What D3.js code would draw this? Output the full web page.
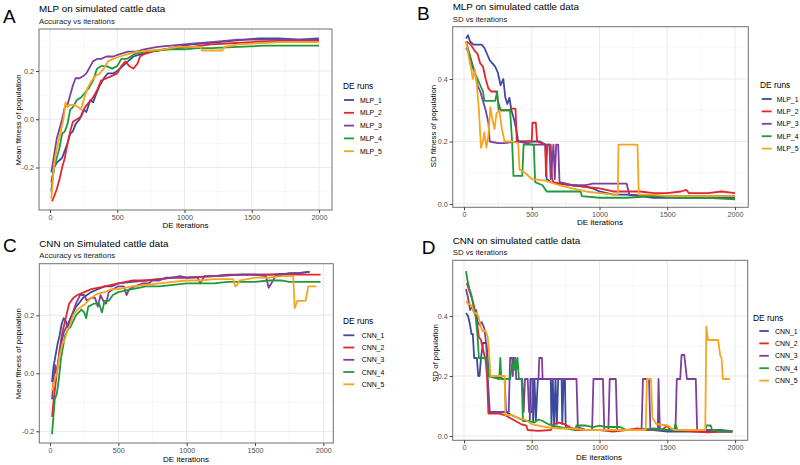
<!DOCTYPE html>
<html><head><meta charset="utf-8">
<script src="https://cdn.jsdelivr.net/npm/d3@7"></script>
<style>body{margin:0;background:#fff} svg{display:block;font-family:"Liberation Sans",Arial,sans-serif}</style>
</head><body><svg id="c" width="800" height="465"></svg>
<script>
// ---------------- DATA (iteration, value) ----------------
const xTicks = [0, 500, 1000, 1500, 2000];
const xMinor = [250, 750, 1250, 1750];
const mlpNames = ["MLP_1","MLP_2","MLP_3","MLP_4","MLP_5"];
const cnnNames = ["CNN_1","CNN_2","CNN_3","CNN_4","CNN_5"];
const accTicks = [-0.2, 0.0, 0.2];
const accMinorA = [-0.3, -0.1, 0.1, 0.3];
const accMinorC = [-0.1, 0.1, 0.3];
const sdTicks = [0.0, 0.2, 0.4];
const sdMinor = [0.1, 0.3, 0.5];

// Panel A: MLP mean fitness
const mlpAcc1 = [[10,-0.30],[20,-0.24],[30,-0.20],[50,-0.18],[70,-0.17],[90,-0.16],[110,-0.13],[130,-0.10],[150,-0.06],[170,-0.05],[190,-0.02],[220,0.0],[250,0.04],[270,0.03],[300,0.08],[320,0.07],[340,0.10],[370,0.14],[400,0.17],[430,0.19],[470,0.19],[500,0.20],[540,0.22],[580,0.24],[620,0.26],[680,0.27],[750,0.28],[850,0.29],[950,0.30],[1050,0.31],[1150,0.315],[1250,0.32],[1350,0.325],[1450,0.33],[1550,0.335],[1700,0.335],[1850,0.33],[2000,0.335]];
const mlpAcc2 = [[15,-0.34],[30,-0.32],[50,-0.29],[70,-0.25],[90,-0.20],[110,-0.16],[130,-0.10],[150,-0.05],[170,-0.01],[200,0.0],[230,0.01],[260,0.05],[290,0.07],[320,0.09],[350,0.12],[380,0.16],[420,0.17],[460,0.18],[500,0.19],[530,0.22],[560,0.24],[590,0.22],[620,0.21],[650,0.23],[670,0.26],[700,0.27],[760,0.28],[850,0.29],[950,0.295],[1050,0.30],[1200,0.31],[1350,0.315],[1500,0.32],[1700,0.325],[1850,0.325],[2000,0.325]];
const mlpAcc3 = [[10,-0.22],[30,-0.15],[50,-0.08],[70,-0.04],[90,0.0],[110,0.05],[130,0.06],[150,0.10],[170,0.14],[190,0.17],[220,0.17],[250,0.18],[270,0.19],[290,0.21],[320,0.24],[350,0.25],[380,0.25],[420,0.26],[470,0.26],[520,0.27],[580,0.28],[640,0.28],[700,0.29],[800,0.30],[900,0.305],[1000,0.31],[1100,0.315],[1200,0.32],[1300,0.325],[1400,0.33],[1500,0.33],[1700,0.33],[1850,0.33],[2000,0.33]];
const mlpAcc4 = [[10,-0.26],[30,-0.20],[50,-0.16],[70,-0.12],[90,-0.06],[110,-0.05],[130,-0.02],[150,0.04],[170,0.05],[200,0.08],[230,0.09],[260,0.11],[290,0.13],[320,0.16],[350,0.21],[380,0.22],[420,0.22],[460,0.21],[500,0.22],[530,0.25],[570,0.25],[600,0.26],[630,0.27],[700,0.28],[800,0.285],[900,0.29],[1000,0.29],[1100,0.295],[1200,0.295],[1400,0.30],[1600,0.305],[1800,0.305],[2000,0.305]];
const mlpAcc5 = [[10,-0.33],[25,-0.22],[40,-0.15],[60,-0.10],[80,-0.05],[100,0.0],[115,0.07],[130,0.05],[150,0.06],[180,0.06],[210,0.05],[230,0.04],[250,0.08],[280,0.13],[310,0.16],[340,0.18],[370,0.19],[400,0.21],[430,0.24],[470,0.25],[520,0.26],[580,0.27],[650,0.28],[750,0.285],[850,0.29],[950,0.30],[1050,0.30],[1120,0.30],[1130,0.285],[1280,0.285],[1300,0.30],[1400,0.31],[1550,0.315],[1700,0.32],[1850,0.32],[2000,0.32]];

// Panel B: MLP SD
const mlpSd1 = [[15,0.53],[30,0.54],[45,0.52],[70,0.51],[100,0.51],[130,0.51],[150,0.50],[170,0.48],[190,0.46],[210,0.45],[230,0.44],[250,0.42],[270,0.38],[290,0.40],[305,0.34],[320,0.32],[335,0.34],[350,0.30],[370,0.27],[385,0.24],[400,0.20],[450,0.20],[500,0.20],[560,0.20],[600,0.19],[610,0.08],[640,0.07],[700,0.065],[800,0.06],[900,0.055],[950,0.05],[1000,0.04],[1100,0.03],[1200,0.03],[1300,0.025],[1400,0.02],[1500,0.02],[1600,0.02],[1800,0.02],[2000,0.02]];
const mlpSd2 = [[20,0.52],[50,0.51],[80,0.49],[100,0.48],[120,0.45],[140,0.44],[160,0.40],[180,0.37],[200,0.36],[240,0.36],[250,0.33],[270,0.30],[300,0.30],[330,0.30],[350,0.305],[380,0.305],[390,0.20],[440,0.20],[500,0.20],[505,0.26],[530,0.26],[540,0.20],[600,0.19],[605,0.09],[615,0.19],[640,0.19],[650,0.08],[660,0.07],[700,0.065],[800,0.06],[900,0.055],[1000,0.05],[1100,0.04],[1200,0.04],[1300,0.04],[1400,0.035],[1500,0.035],[1600,0.04],[1640,0.045],[1660,0.035],[1800,0.035],[1900,0.04],[2000,0.035]];
const mlpSd3 = [[15,0.52],[40,0.48],[60,0.45],[80,0.42],[100,0.38],[120,0.36],[140,0.33],[160,0.30],[180,0.26],[190,0.20],[250,0.195],[300,0.195],[400,0.20],[500,0.19],[600,0.19],[630,0.19],[640,0.08],[660,0.19],[670,0.08],[680,0.19],[695,0.19],[705,0.07],[800,0.06],[900,0.06],[950,0.065],[1000,0.065],[1100,0.065],[1200,0.065],[1220,0.03],[1400,0.025],[1600,0.025],[1800,0.025],[2000,0.025]];
const mlpSd4 = [[15,0.50],[40,0.48],[60,0.44],[80,0.42],[100,0.40],[120,0.38],[140,0.36],[150,0.33],[200,0.33],[230,0.33],[245,0.36],[255,0.30],[300,0.30],[340,0.30],[355,0.20],[365,0.09],[400,0.09],[430,0.09],[440,0.19],[500,0.19],[515,0.19],[525,0.07],[580,0.06],[610,0.04],[700,0.04],[800,0.04],[860,0.04],[870,0.025],[1000,0.02],[1200,0.02],[1400,0.025],[1600,0.02],[1800,0.02],[2000,0.015]];
const mlpSd5 = [[15,0.52],[35,0.47],[50,0.44],[65,0.40],[80,0.43],[95,0.38],[110,0.30],[125,0.18],[140,0.20],[150,0.23],[165,0.18],[180,0.22],[195,0.31],[210,0.27],[225,0.24],[240,0.29],[260,0.30],[280,0.24],[300,0.20],[350,0.20],[400,0.195],[410,0.11],[450,0.10],[500,0.08],[600,0.075],[700,0.06],[800,0.05],[900,0.04],[1000,0.035],[1100,0.03],[1135,0.03],[1140,0.19],[1280,0.19],[1290,0.03],[1400,0.03],[1500,0.025],[1600,0.025],[1800,0.025],[2000,0.025]];

// Panel C: CNN mean fitness
const cnnAcc1 = [[15,-0.03],[25,0.02],[40,0.06],[55,0.10],[70,0.13],[85,0.17],[100,0.19],[115,0.18],[130,0.16],[150,0.19],[170,0.21],[190,0.23],[210,0.24],[240,0.26],[270,0.27],[300,0.28],[350,0.29],[400,0.30],[450,0.30],[500,0.31],[600,0.315],[700,0.32],[800,0.325],[900,0.33],[1000,0.33],[1200,0.335],[1400,0.34],[1600,0.34],[1800,0.345],[1900,0.35]];
const cnnAcc2 = [[15,-0.15],[25,-0.10],[40,-0.04],[55,0.02],[70,0.08],[90,0.14],[110,0.18],[125,0.21],[140,0.24],[170,0.26],[200,0.27],[250,0.28],[300,0.29],[350,0.295],[400,0.30],[450,0.305],[500,0.31],[600,0.32],[700,0.32],[800,0.325],[900,0.33],[1000,0.33],[1200,0.335],[1400,0.34],[1600,0.34],[1800,0.34],[1980,0.34]];
const cnnAcc3 = [[15,-0.09],[25,-0.03],[35,0.03],[45,0.0],[60,0.04],[80,0.10],[100,0.14],[130,0.17],[160,0.20],[190,0.24],[220,0.27],[250,0.27],[270,0.25],[300,0.26],[330,0.26],[350,0.23],[370,0.27],[390,0.25],[410,0.24],[430,0.28],[460,0.29],[500,0.30],[540,0.30],[560,0.27],[580,0.29],[620,0.30],[680,0.31],[720,0.31],[750,0.32],[800,0.32],[850,0.33],[900,0.33],[950,0.335],[1000,0.33],[1080,0.33],[1100,0.31],[1130,0.335],[1200,0.335],[1300,0.34],[1400,0.34],[1500,0.34],[1580,0.335],[1600,0.295],[1620,0.31],[1650,0.335],[1700,0.34],[1750,0.345],[1800,0.345],[1900,0.35]];
const cnnAcc4 = [[15,-0.21],[25,-0.15],[35,-0.09],[50,-0.07],[65,-0.02],[80,0.05],[95,0.09],[110,0.13],[130,0.15],[150,0.16],[170,0.18],[190,0.20],[210,0.21],[230,0.22],[250,0.21],[265,0.19],[280,0.23],[320,0.24],[360,0.24],[380,0.21],[400,0.25],[430,0.25],[460,0.27],[500,0.28],[550,0.285],[600,0.29],[650,0.295],[700,0.30],[800,0.30],[900,0.305],[1000,0.31],[1200,0.31],[1300,0.315],[1400,0.315],[1500,0.315],[1600,0.32],[1700,0.32],[1750,0.315],[1850,0.315],[1980,0.315]];
const cnnAcc5 = [[15,-0.06],[30,-0.03],[50,0.0],[70,0.06],[90,0.10],[110,0.12],[130,0.15],[150,0.17],[170,0.20],[200,0.22],[230,0.23],[260,0.24],[300,0.26],[350,0.275],[400,0.28],[450,0.29],[500,0.29],[600,0.30],[700,0.305],[800,0.31],[900,0.315],[1000,0.32],[1100,0.32],[1200,0.325],[1340,0.325],[1355,0.30],[1370,0.305],[1385,0.32],[1500,0.33],[1600,0.33],[1700,0.335],[1780,0.335],[1790,0.225],[1810,0.25],[1870,0.25],[1890,0.30],[1950,0.30]];

// Panel D: CNN SD
const cnnSd1 = [[15,0.41],[30,0.40],[45,0.37],[55,0.34],[65,0.34],[75,0.26],[95,0.26],[105,0.20],[115,0.20],[125,0.26],[140,0.31],[165,0.31],[175,0.26],[185,0.20],[250,0.195],[300,0.19],[310,0.08],[350,0.07],[400,0.06],[450,0.05],[485,0.05],[490,0.19],[505,0.19],[510,0.05],[520,0.19],[530,0.05],[545,0.19],[640,0.19],[645,0.04],[655,0.19],[665,0.03],[675,0.19],[685,0.04],[695,0.19],[720,0.19],[725,0.04],[735,0.19],[745,0.19],[750,0.03],[800,0.025],[900,0.02],[1000,0.02],[1200,0.02],[1400,0.02],[1500,0.015],[1700,0.015],[1800,0.015],[1980,0.015]];
const cnnSd2 = [[20,0.51],[35,0.49],[50,0.47],[65,0.45],[80,0.42],[95,0.38],[110,0.33],[125,0.32],[145,0.28],[160,0.25],[170,0.20],[180,0.075],[220,0.075],[260,0.075],[300,0.07],[340,0.06],[380,0.05],[420,0.04],[460,0.035],[470,0.02],[550,0.017],[640,0.02],[660,0.04],[700,0.045],[740,0.04],[780,0.03],[820,0.02],[900,0.02],[1000,0.02],[1100,0.015],[1200,0.02],[1280,0.025],[1350,0.02],[1460,0.02],[1500,0.035],[1520,0.02],[1600,0.02],[1700,0.015],[1800,0.012],[1900,0.015],[1980,0.015]];
const cnnSd3 = [[15,0.49],[30,0.46],[45,0.42],[60,0.43],[75,0.41],[90,0.42],[100,0.38],[115,0.37],[130,0.38],[150,0.36],[165,0.30],[175,0.20],[190,0.08],[230,0.08],[280,0.08],[330,0.08],[340,0.26],[355,0.26],[360,0.20],[365,0.26],[380,0.26],[385,0.19],[430,0.19],[440,0.08],[450,0.19],[470,0.19],[480,0.08],[500,0.08],[510,0.19],[550,0.19],[555,0.26],[575,0.26],[580,0.19],[700,0.19],[830,0.19],[840,0.03],[900,0.02],[945,0.02],[955,0.19],[1025,0.19],[1035,0.02],[1065,0.02],[1075,0.19],[1120,0.19],[1130,0.02],[1200,0.02],[1310,0.02],[1320,0.19],[1365,0.19],[1375,0.02],[1430,0.02],[1435,0.19],[1445,0.02],[1560,0.02],[1570,0.19],[1595,0.19],[1605,0.27],[1625,0.27],[1645,0.19],[1710,0.19],[1720,0.02],[1800,0.02],[1900,0.02],[1980,0.015]];
const cnnSd4 = [[15,0.55],[25,0.52],[40,0.49],[55,0.47],[70,0.43],[85,0.40],[100,0.33],[110,0.26],[140,0.26],[170,0.26],[180,0.20],[220,0.195],[260,0.19],[268,0.26],[275,0.19],[300,0.19],[340,0.19],[355,0.24],[370,0.22],[378,0.26],[385,0.22],[395,0.26],[405,0.19],[425,0.19],[435,0.05],[480,0.05],[520,0.045],[550,0.055],[580,0.05],[620,0.04],[660,0.035],[700,0.03],[760,0.025],[820,0.02],[830,0.035],[900,0.035],[950,0.03],[1000,0.035],[1050,0.03],[1150,0.03],[1200,0.02],[1300,0.02],[1400,0.025],[1500,0.02],[1550,0.02],[1560,0.04],[1575,0.02],[1700,0.02],[1780,0.02],[1790,0.035],[1820,0.035],[1830,0.02],[1900,0.015],[1980,0.015]];
const cnnSd5 = [[15,0.45],[30,0.44],[45,0.44],[60,0.43],[75,0.41],[90,0.41],[105,0.40],[120,0.37],[135,0.35],[160,0.35],[175,0.33],[185,0.28],[195,0.20],[250,0.20],[300,0.20],[305,0.07],[350,0.07],[400,0.06],[450,0.055],[500,0.04],[550,0.035],[600,0.03],[700,0.025],[800,0.025],[900,0.02],[1000,0.02],[1200,0.02],[1340,0.02],[1350,0.19],[1380,0.19],[1390,0.06],[1420,0.04],[1500,0.035],[1550,0.02],[1700,0.02],[1780,0.02],[1788,0.365],[1800,0.32],[1875,0.32],[1890,0.27],[1900,0.26],[1910,0.19],[1960,0.19]];

// ---------------- STYLE / LAYOUT ----------------
const colors = ["#3a4a9c", "#e3262c", "#7e3f98", "#1f9a3b", "#f5a51f"];
const fmt = d => d3.format(".1f")(d).replace("−", "-");

const panels = [
  { letter:"A", lx:3, ly:22.5, title:"MLP on simulated cattle data", tx:39, ty:12, sub:"Accuracy vs iterations", sy:24,
    box:[39,332,29,210], xd:[-82,2097], yd:[-0.376,0.374], yt:accTicks, ym:accMinorA,
    xTitle:[185.5,228], yTitle:"Mean fitness of population", yTx:21, yTy:120,
    names:mlpNames, series:[mlpAcc1,mlpAcc2,mlpAcc3,mlpAcc4,mlpAcc5],
    leg:{tx:343, ty:89, ys:[100,112.8,125.6,138.4,151.2], kx:344, kw:10, labx:360} },
  { letter:"B", lx:417, ly:20, title:"MLP on simulated cattle data", tx:452.7, ty:10, sub:"SD vs iterations", sy:21.7,
    box:[452.7,748.3,26.7,207.3], xd:[-83.4,2098], yd:[-0.0106,0.5674], yt:sdTicks, ym:sdMinor,
    xTitle:[600,225], yTitle:"SD fitness of population", yTx:436, yTy:126,
    names:mlpNames, series:[mlpSd1,mlpSd2,mlpSd3,mlpSd4,mlpSd5],
    leg:{tx:760, ty:87.7, ys:[99,111.4,123.8,136.2,148.6], kx:761.7, kw:10, labx:776.7} },
  { letter:"C", lx:3, ly:252, title:"CNN on Simulated cattle data", tx:39.3, ty:247, sub:"Accuracy vs iterations", sy:258,
    box:[39.3,333.3,263.7,443], xd:[-78.3,2073], yd:[-0.2403,0.378], yt:accTicks, ym:accMinorC,
    xTitle:[186,462], yTitle:"Mean fitness of population", yTx:21, yTy:353.7,
    names:cnnNames, series:[cnnAcc1,cnnAcc2,cnnAcc3,cnnAcc4,cnnAcc5],
    leg:{tx:343, ty:323.7, ys:[335.3,347.5,359.8,372,384.3], kx:343.3, kw:11, labx:361.7} },
  { letter:"D", lx:421.7, ly:253.7, title:"CNN on simulated cattle data", tx:452.7, ty:243.7, sub:"SD vs iterations", sy:255.3,
    box:[452.7,747.7,260.3,440.3], xd:[-83.4,2093], yd:[-0.0143,0.5857], yt:sdTicks, ym:sdMinor,
    xTitle:[599,460], yTitle:"SD of population", yTx:438, yTy:353,
    names:cnnNames, series:[cnnSd1,cnnSd2,cnnSd3,cnnSd4,cnnSd5],
    leg:{tx:753, ty:321.3, ys:[331,343.4,355.8,368.2,380.6], kx:759.3, kw:9.5, labx:775} }
];

const svg = d3.select("#c");
svg.append("rect").attr("width",800).attr("height",465).attr("fill","#fff");

panels.forEach((p, pi) => {
  const [x0,x1,y0,y1] = p.box;
  const x = d3.scaleLinear().domain(p.xd).range([x0,x1]);
  const y = d3.scaleLinear().domain(p.yd).range([y1,y0]);
  const g = svg.append("g");

  g.selectAll(null).data(xMinor).join("line")
    .attr("x1",d=>x(d)).attr("x2",d=>x(d)).attr("y1",y0).attr("y2",y1)
    .attr("stroke","#f3f3f3").attr("stroke-width",0.6);
  g.selectAll(null).data(p.ym).join("line")
    .attr("y1",d=>y(d)).attr("y2",d=>y(d)).attr("x1",x0).attr("x2",x1)
    .attr("stroke","#f3f3f3").attr("stroke-width",0.6);
  g.selectAll(null).data(xTicks).join("line")
    .attr("x1",d=>x(d)).attr("x2",d=>x(d)).attr("y1",y0).attr("y2",y1)
    .attr("stroke","#e6e6e6").attr("stroke-width",0.9);
  g.selectAll(null).data(p.yt).join("line")
    .attr("y1",d=>y(d)).attr("y2",d=>y(d)).attr("x1",x0).attr("x2",x1)
    .attr("stroke","#e6e6e6").attr("stroke-width",0.9);

  const cid = "clip"+pi;
  svg.append("clipPath").attr("id",cid).append("rect")
    .attr("x",x0).attr("y",y0).attr("width",x1-x0).attr("height",y1-y0);

  const line = d3.line().x(d=>x(d[0])).y(d=>y(d[1]));
  g.append("g").attr("clip-path",`url(#${cid})`)
    .selectAll("path").data(p.series).join("path")
    .attr("d", line).attr("fill","none")
    .attr("stroke",(d,i)=>colors[i]).attr("stroke-width",1.8)
    .attr("stroke-linejoin","round");

  g.append("rect").attr("x",x0).attr("y",y0).attr("width",x1-x0).attr("height",y1-y0)
    .attr("fill","none").attr("stroke","#707070").attr("stroke-width",1);

  const ax = g.append("g").attr("transform",`translate(0,${y1})`)
    .call(d3.axisBottom(x).tickValues(xTicks).tickSize(3).tickPadding(2).tickFormat(d3.format("d")));
  const ay = g.append("g").attr("transform",`translate(${x0},0)`)
    .call(d3.axisLeft(y).tickValues(p.yt).tickSize(3).tickPadding(2).tickFormat(fmt));
  [ax,ay].forEach(a=>{
    a.select(".domain").remove();
    a.selectAll(".tick line").attr("stroke","#444");
    a.selectAll(".tick text").attr("fill","#4d4d4d").style("font-size","7.2px")
      .style("font-family",'"Liberation Sans",Arial,sans-serif');
  });

  g.append("text").attr("x",p.lx).attr("y",p.ly).text(p.letter)
    .style("font-size","19px").attr("fill","#000");
  g.append("text").attr("x",p.tx).attr("y",p.ty).text(p.title)
    .style("font-size","9.8px").attr("fill","#000");
  g.append("text").attr("x",p.tx).attr("y",p.sy).text(p.sub)
    .style("font-size","7.8px").attr("fill","#222");
  g.append("text").attr("x",p.xTitle[0]).attr("y",p.xTitle[1]).attr("text-anchor","middle")
    .text("DE iterations").style("font-size","8px").attr("fill","#000");
  g.append("text").attr("transform",`translate(${p.yTx},${p.yTy}) rotate(-90)`).attr("text-anchor","middle")
    .text(p.yTitle).style("font-size","7.8px").attr("fill","#000");

  const L = p.leg;
  g.append("text").attr("x",L.tx).attr("y",L.ty).text("DE runs")
    .style("font-size","8.4px").attr("fill","#000");
  const items = g.selectAll(null).data(p.names).join("g");
  items.append("line").attr("x1",L.kx).attr("x2",L.kx+L.kw)
    .attr("y1",(d,i)=>L.ys[i]).attr("y2",(d,i)=>L.ys[i])
    .attr("stroke",(d,i)=>colors[i]).attr("stroke-width",1.8);
  items.append("text").attr("x",L.labx).attr("y",(d,i)=>L.ys[i]+2.5).text(d=>d)
    .style("font-size","6.9px").attr("fill","#000");
});
</script>
</body></html>
